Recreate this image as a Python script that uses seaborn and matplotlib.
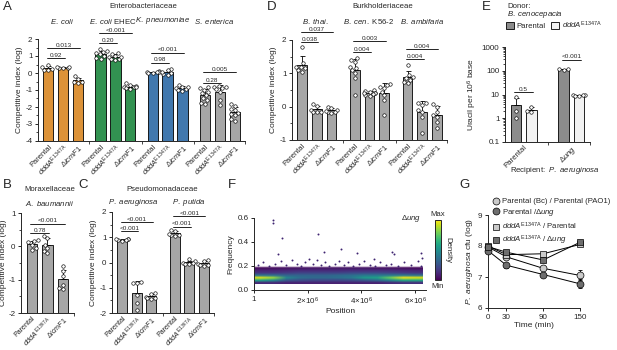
import numpy as np
import pandas as pd
import seaborn as sns
import matplotlib.pyplot as plt
from matplotlib.lines import Line2D
from matplotlib.patches import Patch

W, H = 617, 350

sns.set_style("ticks")
plt.rcParams["font.family"] = ["Liberation Sans", "DejaVu Sans"]
plt.rcParams.update({
    "mathtext.fontset": "custom",
    "mathtext.rm": "Liberation Sans",
    "mathtext.it": "Liberation Sans:italic",
    "mathtext.bf": "Liberation Sans:bold",
    "mathtext.sf": "Liberation Sans",
    "axes.unicode_minus": False,
    "axes.linewidth": 0.7,
    "xtick.major.width": 0.7, "ytick.major.width": 0.7,
    "xtick.minor.width": 0.6, "ytick.minor.width": 0.6,
    "xtick.major.size": 2.5, "ytick.major.size": 2.5,
    "xtick.minor.size": 2.0, "ytick.minor.size": 1.5,
    "xtick.major.pad": 1.5, "ytick.major.pad": 1.5,
    "xtick.labelsize": 5.8, "ytick.labelsize": 5.8,
    "axes.labelsize": 6,
})

PAR = "Parental"
DDA = r"$\it{dddA}^{\rm E1347A}$"
ICM = r"$\Delta\it{icmF1}$"
bar_labels = [PAR, DDA, ICM]

# A - Enterobacteriaceae (competitive index, log)
a_species = [r"$\it{E.\ coli}$", r"$\it{E.\ coli}$ EHEC", r"$\it{K.\ pneumoniae}$", r"$\it{S.\ enterica}$"]
a_ecoli = [[0.5, 0.35, 0.25, 0.15, 0.2],
           [0.3, 0.35, 0.32, 0.28, 0.33],
           [-0.18, -0.35, -0.5, -0.55, -0.6]]
a_ehec = [[1.4, 1.3, 1.25, 1.2, 1.1, 1.0, 0.85, 0.9],
          [1.2, 1.1, 1.0, 0.95, 0.85, 0.8, 0.75, 0.95],
          [-0.6, -0.7, -0.8, -0.85, -0.9, -0.95, -0.75, -0.85]]
a_kpn = [[0.1, 0.05, 0.0, 0.05, 0.08, 0.02],
         [0.25, 0.15, 0.0, -0.1, -0.05, 0.05],
         [-0.7, -0.8, -0.9, -1.0, -1.05, -0.95, -0.85]]
a_sent = [[-0.9, -1.0, -1.1, -1.2, -1.3, -1.5, -1.6, -1.75, -1.8, -0.85],
          [-0.75, -0.8, -0.85, -0.9, -0.95, -1.1, -1.6, -1.9],
          [-1.8, -1.95, -2.1, -2.2, -2.35, -2.5, -2.7, -2.8, -2.4]]
a_colors = ["#F7941D", "#22A24B", "#2F78C0", "#A6A6A6"]
a_brackets = [(0, 0, 1, 0.88, "0.92"), (0, 0, 2, 1.47, "0.013"),
              (1, 0, 1, 1.76, "0.20"), (1, 0, 2, 2.35, "<0.001"),
              (2, 0, 1, 0.6, "0.98"), (2, 0, 2, 1.2, "<0.001"),
              (3, 0, 1, -0.6, "0.28"), (3, 0, 2, 0.06, "0.005")]

# D - Burkholderiaceae
d_species = [r"$\it{B.\ thai.}$", r"$\it{B.\ cen.}$ K56-2", r"$\it{B.\ ambifaria}$"]
d_bthai = [[1.8, 1.3, 1.2, 1.15, 1.1, 1.05, 1.2],
           [0.08, 0.02, -0.1, -0.15, -0.15, -0.15],
           [0.0, -0.05, -0.1, -0.15, -0.2, -0.15, -0.12]]
d_bcen = [[1.45, 1.4, 1.35, 1.2, 1.15, 1.1, 1.0, 0.85, 0.35],
          [0.5, 0.48, 0.45, 0.42, 0.4, 0.38, 0.35, 0.32, 0.4],
          [0.68, 0.65, 0.6, 0.55, 0.45, 0.35, 0.2, -0.25]]
d_bamb = [[1.25, 0.95, 0.9, 0.85, 0.8, 0.75, 0.7],
          [0.1, 0.1, 0.05, -0.1, -0.15, -0.3, -0.8],
          [0.08, 0.0, -0.15, -0.25, -0.3, -0.45, -0.65]]
d_brackets = [(0, 0, 1, 1.94, "0.038"), (0, 0, 2, 2.24, "0.037"),
              (1, 0, 1, 1.64, "0.004"), (1, 0, 2, 1.97, "0.003"),
              (2, 0, 1, 1.43, "0.004"), (2, 0, 2, 1.73, "0.004")]

# B - Moraxellaceae
b_abau = [[0.18, 0.15, 0.12, 0.05, -0.05, -0.1],
          [0.3, 0.25, 0.05, -0.05, -0.15, -0.2],
          [-0.6, -0.75, -0.9, -1.15, -1.25, -1.28]]
b_brackets = [(0, 0, 1, 0.4, "0.78"), (0, 0, 2, 0.68, "<0.001")]

# C - Pseudomonadaceae
c_species = [r"$\it{P.\ aeruginosa}$", r"$\it{P.\ putida}$"]
c_paer = [[0.95, 0.92, 0.9, 0.88, 0.85, 0.93],
          [-0.78, -0.8, -0.82, -1.3, -1.6, -1.9],
          [-1.2, -1.25, -1.35, -1.4, -1.45, -1.4]]
c_pput = [[1.3, 1.25, 1.1, 1.1, 1.05, 1.12],
          [0.12, 0.05, 0.0, -0.05, -0.05, -0.03],
          [0.1, 0.05, -0.05, -0.1, -0.12, -0.08]]
c_brackets = [(0, 0, 1, 1.25, "<0.001"), (0, 0, 2, 1.6, "<0.001"),
              (1, 0, 1, 1.42, "<0.001"), (1, 0, 2, 1.83, "<0.001")]

# E - uracil per 10^6 base (donor Parental / dddA per recipient)
e_groups = [PAR, r"$\Delta\it{ung}$"]
e_parental = [[8.0, 2.0, 1.0], [3.0, 2.0, 1.8]]
e_ung = [[112, 118, 124], [9.8, 9.4, 9.0, 8.8, 9.2]]
e_colors = ["#8C8C8C", "#F2F2F2"]
e_brackets = [(0, 0, 1, 12.5, "0.5"), (1, 0, 1, 290, "<0.001")]

# F - density grid (rows: frequency 0.06..0.20, cols: position bins to 6.26e6)
f_density = [
    [0.14, 0.14, 0.12, 0.12, 0.12, 0.12, 0.12, 0.12, 0.12, 0.12, 0.14, 0.16, 0.16],
    [0.60, 0.50, 0.30, 0.26, 0.24, 0.24, 0.24, 0.26, 0.30, 0.36, 0.48, 0.62, 0.62],
    [0.95, 0.85, 0.48, 0.38, 0.36, 0.36, 0.38, 0.42, 0.55, 0.58, 0.78, 0.97, 0.95],
    [0.40, 0.38, 0.34, 0.34, 0.34, 0.34, 0.36, 0.38, 0.42, 0.42, 0.42, 0.42, 0.38],
    [0.18, 0.18, 0.20, 0.22, 0.22, 0.22, 0.22, 0.24, 0.24, 0.24, 0.22, 0.20, 0.18],
    [0.12, 0.12, 0.13, 0.14, 0.14, 0.14, 0.14, 0.15, 0.15, 0.15, 0.14, 0.13, 0.12],
    [0.05, 0.06, 0.07, 0.07, 0.08, 0.08, 0.08, 0.08, 0.08, 0.07, 0.07, 0.06, 0.05],
    [0.0] * 13,
]
f_sparse_pos = [0.15, 0.35, 0.55, 0.8, 1.0, 1.2, 1.4, 1.6, 1.75, 1.9, 2.05, 2.2, 2.35, 2.5,
                2.65, 2.8, 3.0, 3.15, 3.35, 3.5, 3.7, 3.9, 4.1, 4.3, 4.5, 4.7, 4.9, 5.1,
                5.35, 5.6, 5.85, 6.1, 6.2,
                0.7, 0.7, 1.05, 2.4, 2.6, 3.25, 3.85, 5.15, 5.2, 6.2, 6.25, 0.9, 4.45]
f_sparse_freq = [0.21, 0.23, 0.2, 0.22, 0.24, 0.21, 0.25, 0.22, 0.2, 0.23, 0.26, 0.22, 0.25, 0.21,
                 0.23, 0.2, 0.22, 0.24, 0.21, 0.23, 0.2, 0.22, 0.24, 0.21, 0.2, 0.23, 0.21, 0.22,
                 0.2, 0.23, 0.21, 0.24, 0.2,
                 0.58, 0.56, 0.43, 0.47, 0.32, 0.34, 0.31, 0.32, 0.30, 0.31, 0.27, 0.30, 0.26]

# G - P. aeruginosa cfu (log) over time
g_time = [0, 30, 90, 150]
g_par_par = [7.97, 7.65, 7.28, 7.05]
g_par_par_sd = [0.04, 0.05, 0.05, 0.16]
g_par_ung = [7.85, 7.38, 7.08, 6.78]
g_par_ung_sd = [0.04, 0.08, 0.05, 0.15]
g_dd_par = [8.0, 7.72, 7.75, 8.05]
g_dd_par_sd = [0.03, 0.05, 0.05, 0.04]
g_dd_ung = [7.98, 7.8, 7.55, 8.12]
g_dd_ung_sd = [0.04, 0.06, 0.06, 0.04]
LIGHT, DARK = "#CACACA", "#6E6E6E"

TXT = 5.6


def rect(x0, y0, x1, y1):
    return [x0 / W, 1 - y1 / H, (x1 - x0) / W, (y1 - y0) / H]


fig = plt.figure(figsize=(W / 100, H / 100), dpi=100)


def ftext(x, y, s, **kw):
    kw.setdefault("ha", "center")
    kw.setdefault("va", "center")
    fig.text(x / W, 1 - y / H, s, **kw)


def bar_panel(ax, groups, colors, step, shift, brackets, lo, hi):
    rows = []
    for g, bars in enumerate(groups):
        for i, vals in enumerate(bars):
            for v in vals:
                rows.append({"pos": g * step + i, "y": v - shift, "bar": f"{g}-{i}"})
    df = pd.DataFrame(rows)
    pal = {f"{g}-{i}": colors[g][i] for g, bars in enumerate(groups) for i in range(len(bars))}
    sns.barplot(data=df, x="pos", y="y", hue="bar", palette=pal, native_scale=True,
                errorbar=None, width=0.68, edgecolor="black", linewidth=0.6,
                legend=False, ax=ax, zorder=1)
    stats = df.groupby("pos")["y"].agg(["mean", "std"])
    ax.errorbar(stats.index, stats["mean"], yerr=[np.zeros(len(stats)), stats["std"]],
                fmt="none", ecolor="black", elinewidth=0.6, capsize=1.8, capthick=0.6, zorder=2)
    sns.swarmplot(data=df, x="pos", y="y", native_scale=True, color="white",
                  edgecolor="black", linewidth=0.45, size=2.5, ax=ax, zorder=3)
    nb = len(groups[0])
    ax.set_xlim(-0.7, (len(groups) - 1) * step + nb - 1 + 0.7)
    seps = [g * step + nb - 1 + (step - nb + 1) / 2 for g in range(len(groups) - 1)]
    ax.set_xticks(seps + [ax.get_xlim()[1]], minor=True)
    ax.tick_params(axis="x", which="major", length=0, pad=1.5)
    ax.tick_params(axis="x", which="minor", length=2)
    for g, i, j, yv, lab in brackets:
        x1, x2 = g * step + i, g * step + j
        ax.plot([x1 - 0.1, x2 + 0.1], [yv - shift] * 2, color="black", lw=0.6, clip_on=False)
        ax.annotate(lab, ((x1 + x2) / 2, yv - shift), xytext=(0, 0.3), textcoords="offset points",
                    ha="center", va="bottom", fontsize=4.6, annotation_clip=False)
    if lo is not None:
        ticks = np.arange(lo, hi + 1)
        ax.set_yticks(ticks - shift)
        ax.set_yticklabels([str(int(t)) for t in ticks])
        ax.set_yticks(np.arange(lo, hi, 0.5) + 0.5 - shift, minor=True)
        ax.set_ylim(0, hi - lo)
    ax.set_xlabel("")
    ax.set_ylabel("")
    sns.despine(ax=ax)


def set_bar_labels(ax, groups, step, size=5.4):
    pos = [g * step + i for g, bars in enumerate(groups) for i in range(len(bars))]
    ax.set_xticks(pos)
    ax.set_xticklabels(bar_labels * len(groups), rotation=45, ha="right", va="top",
                       rotation_mode="anchor", fontsize=size)


# ---- Panel A
ax_a = fig.add_axes(rect(38, 39, 245, 141))
a_groups = [a_ecoli, a_ehec, a_kpn, a_sent]
bar_panel(ax_a, a_groups, [[c] * 3 for c in a_colors], 3.5, -4, a_brackets, -4, 2)
set_bar_labels(ax_a, a_groups, 3.5)
ax_a.set_ylabel("Competitive index (log)", labelpad=2)

# ---- Panel D
ax_d = fig.add_axes(rect(292, 40, 447, 140))
d_groups = [d_bthai, d_bcen, d_bamb]
bar_panel(ax_d, d_groups, [["#A6A6A6"] * 3] * 3, 3.6, -1, d_brackets, -1, 2)
set_bar_labels(ax_d, d_groups, 3.6)
ax_d.set_ylabel("Competitive index (log)", labelpad=2)

# ---- Panel B
ax_b = fig.add_axes(rect(21, 213, 74, 313))
bar_panel(ax_b, [b_abau], [["#A6A6A6"] * 3], 3.5, -2, b_brackets, -2, 1)
set_bar_labels(ax_b, [b_abau], 3.5, 5.1)
ax_b.set_ylabel("Competitive index (log)", labelpad=1)

# ---- Panel C
ax_c = fig.add_axes(rect(112, 212, 214, 313))
c_groups = [c_paer, c_pput]
bar_panel(ax_c, c_groups, [["#A6A6A6"] * 3] * 2, 3.6, -2, c_brackets, -2, 2)
set_bar_labels(ax_c, c_groups, 3.6, 5.1)
ax_c.set_ylabel("Competitive index (log)", labelpad=2)

# ---- Panel E
ax_e = fig.add_axes(rect(505, 47, 590, 142))
e_data = [e_parental, e_ung]
bar_panel(ax_e, e_data, [e_colors, e_colors], 3.1, 0, e_brackets, None, None)
ax_e.set_yscale("log")
ax_e.set_ylim(0.1, 1000)
ax_e.set_yticks([0.1, 1, 10, 100, 1000])
ax_e.set_yticklabels(["0.1", "1", "10", "100", "1000"])
ax_e.set_xticks([0.5, 3.6])
ax_e.set_xticklabels(e_groups, rotation=45, ha="right", va="top", rotation_mode="anchor", fontsize=5.6)
ax_e.set_ylabel(r"Uracil per 10$^6$ base", labelpad=2)
ax_e.legend(handles=[Patch(facecolor=e_colors[0], edgecolor="black", lw=0.6, label=PAR),
                     Patch(facecolor=e_colors[1], edgecolor="black", lw=0.6, label=DDA)],
            loc="center left", bbox_to_anchor=(506 / W, 1 - 25 / H), bbox_transform=fig.transFigure,
            ncol=2, frameon=False, fontsize=TXT, handlelength=1.0, handleheight=1.0,
            handletextpad=0.3, columnspacing=0.8, borderpad=0, borderaxespad=0)

# ---- Panel F
ax_f = fig.add_axes(rect(254, 218, 426, 290))
cmap = plt.get_cmap("viridis").copy()
cmap.set_under((1, 1, 1, 0))
im = ax_f.imshow(np.array(f_density), origin="lower", aspect="auto", interpolation="bilinear",
                 extent=[1, 6.26e6, 0.05, 0.21], cmap=cmap, vmin=0.03, vmax=1.0, zorder=1)
sns.scatterplot(x=np.array(f_sparse_pos) * 1e6, y=f_sparse_freq, s=2, color="#3E2470",
                linewidth=0, ax=ax_f, zorder=2)
ax_f.set_xlim(1, 6.4e6)
ax_f.set_ylim(0, 0.6)
ax_f.set_xticks([1, 2e6, 4e6, 6e6])
ax_f.set_xticklabels(["1", "2\u00d710$^6$", "4\u00d710$^6$", "6\u00d710$^6$"])
ax_f.set_yticks([0, 0.2, 0.4, 0.6])
ax_f.set_yticklabels(["0.0", "0.2", "0.4", "0.6"])
ax_f.set_xlabel("Position", labelpad=1)
ax_f.set_ylabel("Frequency", labelpad=2)
ax_f.text(0.97, 1.0, r"$\Delta\it{ung}$", transform=ax_f.transAxes, ha="right", va="center", fontsize=TXT)
sns.despine(ax=ax_f)
cax = fig.add_axes(rect(435, 220, 441, 280))
cb = fig.colorbar(im, cax=cax)
cb.set_ticks([])
cb.outline.set_linewidth(0.7)
ftext(438, 214, "Max", fontsize=TXT)
ftext(438, 286, "Min", fontsize=TXT)
ftext(448, 250, "Density", fontsize=TXT, rotation=270)

# ---- Panel G
ax_g = fig.add_axes(rect(488, 215, 580, 308))
g_series = [(g_par_par, g_par_par_sd, "o", LIGHT), (g_par_ung, g_par_ung_sd, "o", DARK),
            (g_dd_par, g_dd_par_sd, "s", LIGHT), (g_dd_ung, g_dd_ung_sd, "s", DARK)]
for mean, sd, mk, col in g_series:
    ax_g.errorbar(g_time, mean, yerr=sd, fmt="none", ecolor="black", elinewidth=0.6,
                  capsize=1.5, capthick=0.6, zorder=2, clip_on=False)
    sns.lineplot(x=g_time, y=mean, ax=ax_g, color="black", lw=0.7, marker=mk,
                 markersize=5 if mk == "o" else 4.6, markerfacecolor=col, markeredgecolor="black",
                 markeredgewidth=0.5, zorder=3, clip_on=False)
ax_g.set_xlim(0, 150)
ax_g.set_ylim(6, 9)
ax_g.set_xticks(g_time)
ax_g.set_yticks([6, 7, 8, 9])
ax_g.set_xlabel("Time (min)", labelpad=1)
ax_g.set_ylabel(r"$\it{P.\ aeruginosa}$ cfu (log)", labelpad=2)
sns.despine(ax=ax_g)


def mk_handle(mk, col):
    return Line2D([], [], ls="none", marker=mk, markersize=5 if mk == "o" else 4.6,
                  markerfacecolor=col, markeredgecolor="black", markeredgewidth=0.5)


leg_kw = dict(loc="upper left", frameon=False, fontsize=TXT, handlelength=0.8,
              handletextpad=0.4, labelspacing=0.15, borderpad=0, borderaxespad=0)
fig.legend(handles=[mk_handle("o", LIGHT), mk_handle("o", DARK)],
           labels=["Parental (Bc) / Parental (PAO1)", r"Parental /$\Delta\it{ung}$"],
           bbox_to_anchor=(493 / W, 1 - 198 / H), **leg_kw)
fig.legend(handles=[mk_handle("s", LIGHT), mk_handle("s", DARK)],
           labels=[DDA + " / Parental", DDA + r" / $\Delta\it{ung}$"],
           bbox_to_anchor=(493 / W, 1 - 221 / H), **leg_kw)

# ---- Titles and panel letters
for lab, x, y in [("A", 7, 7), ("D", 272, 7), ("E", 486, 7), ("B", 7, 185),
                  ("C", 83, 185), ("F", 232, 185), ("G", 465, 185)]:
    ftext(x, y, lab, fontsize=9.5)

ftext(143, 7, "Enterobacteriaceae", fontsize=TXT)
for s, x in zip(a_species, [62, 113, 163, 214]):
    ftext(x, 21, s, fontsize=TXT)
ftext(383, 7, "Burkholderiaceae", fontsize=TXT)
for s, x in zip(d_species, [315, 369, 422]):
    ftext(x, 21, s, fontsize=TXT)
ftext(50, 190, "Moraxellaceae", fontsize=TXT)
ftext(50, 203, r"$\it{A.\ baumannii}$", fontsize=TXT)
ftext(162, 190, "Pseudomonadaceae", fontsize=TXT)
for s, x in zip(c_species, [133, 189]):
    ftext(x, 203, s, fontsize=TXT)
ftext(507, 7, "Donor:", fontsize=TXT, ha="left")
ftext(507, 15, r"$\it{B.\ cenocepacia}$", fontsize=TXT, ha="left")
ftext(555, 170, r"Recipient:  $\it{P.\ aeruginosa}$", fontsize=TXT)

fig.savefig("out.png", dpi=100)
